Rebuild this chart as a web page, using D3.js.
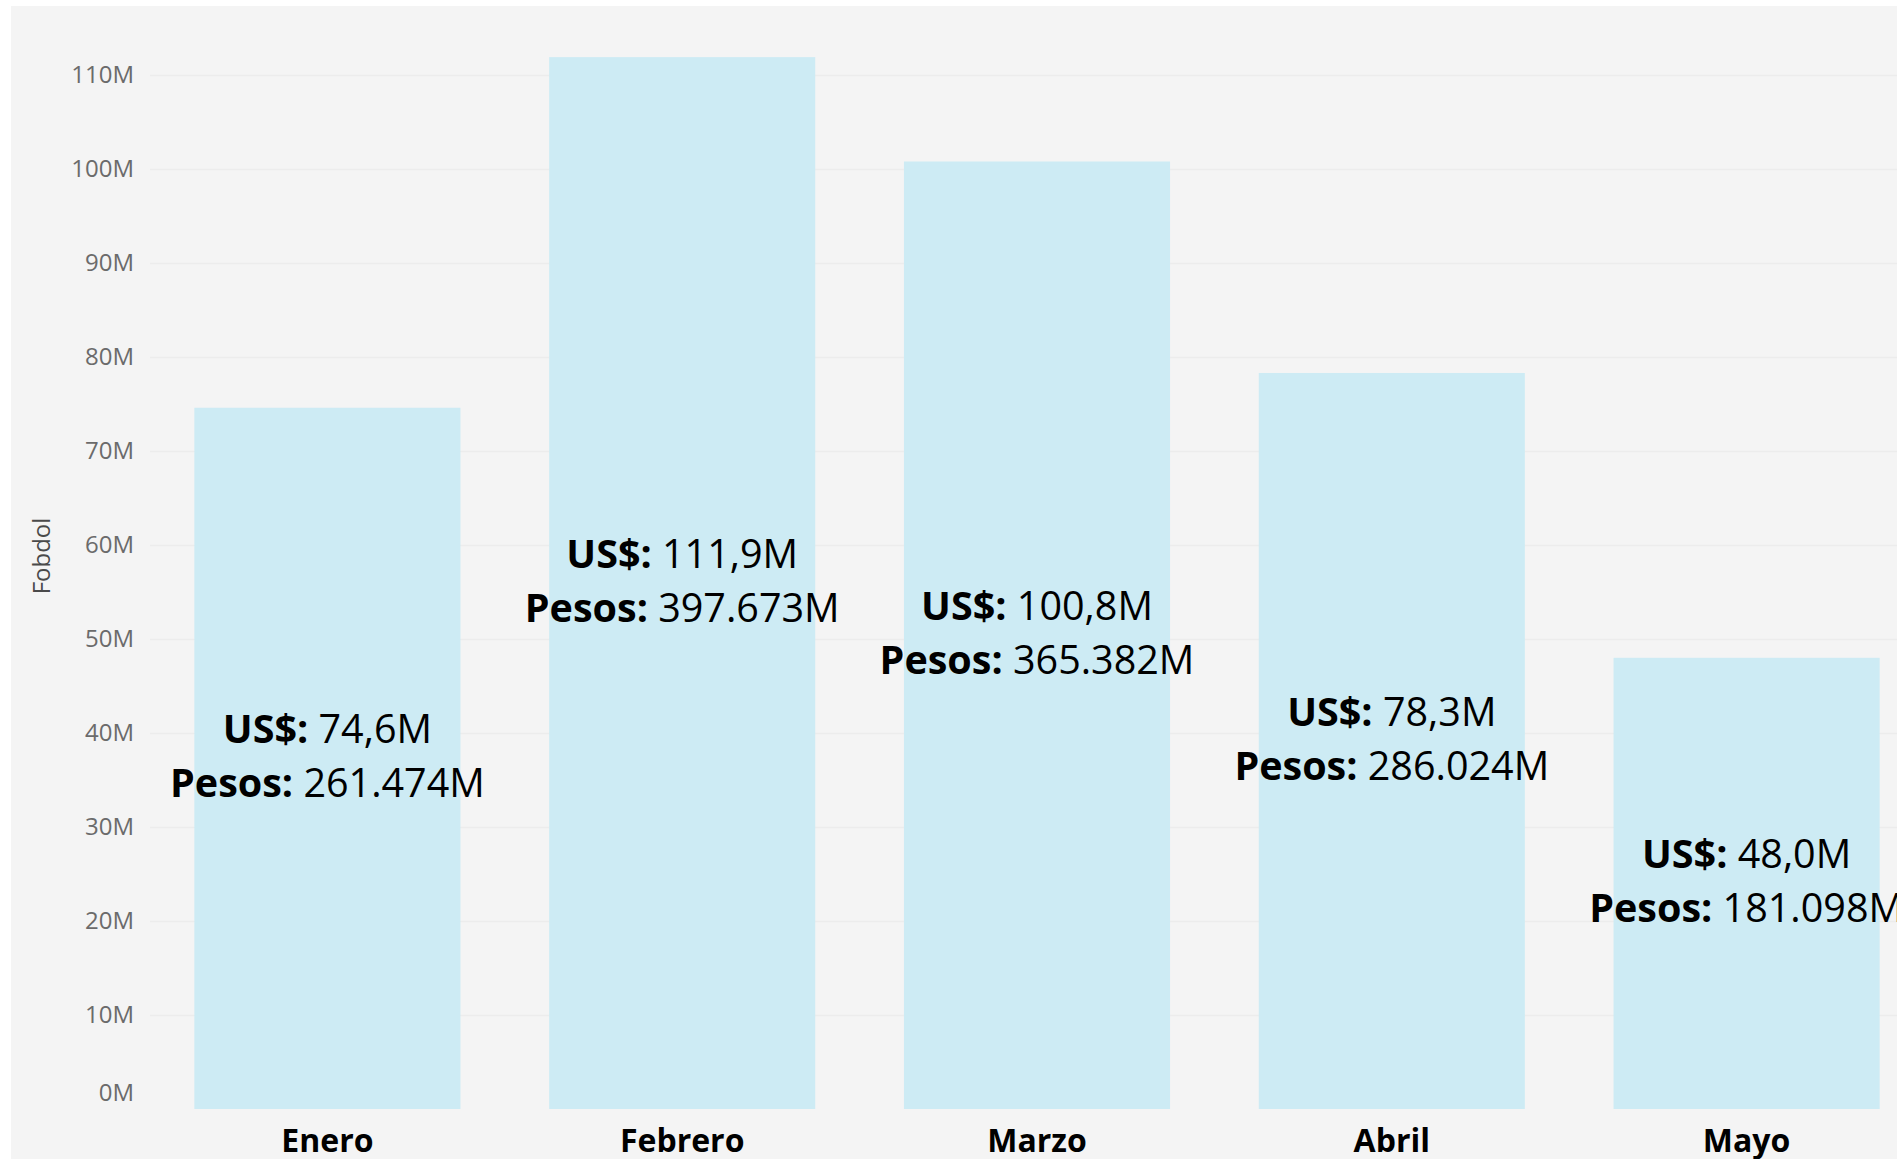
<!DOCTYPE html>
<html lang="es">
<head>
<meta charset="utf-8">
<title>Fobdol por mes</title>
<script src="https://cdn.jsdelivr.net/npm/d3@7"></script>
<style>
    body { margin: 0; background: #ffffff; font-family: "Open Sans", sans-serif; }
    svg { display: block; }
</style>
</head>
<body>
<div id="chart"></div>
<script>
    // data
    var months = ["Enero", "Febrero", "Marzo", "Abril", "Mayo"];
    var usdM = [74.6, 111.9, 100.8, 78.3, 48.0];
    var pesosM = [261474, 397673, 365382, 286024, 181098];
    var yTicks = [0, 10, 20, 30, 40, 50, 60, 70, 80, 90, 100, 110];

    var width = 1897, height = 1159;

    var svg = d3.select("#chart").append("svg")
        .attr("width", width)
        .attr("height", height);

    // panel background
    svg.append("rect")
        .attr("x", 11).attr("y", 6)
        .attr("width", width - 11).attr("height", height - 6)
        .attr("fill", "#f4f4f4");

    var es = d3.formatLocale({decimal: ",", thousands: ".", grouping: [3], currency: ["$", ""]});
    var fUsd = es.format(".1f");
    var fPesos = es.format(",d");

    var x = d3.scaleBand()
        .domain(months)
        .range([150, 1924])
        .paddingInner(0.25)
        .paddingOuter(0.125);

    var y = d3.scaleLinear()
        .domain([0, 110])
        .range([1109, 75]);

    // y axis with grid
    var yAxis = svg.append("g")
        .attr("transform", "translate(150,0)")
        .call(d3.axisLeft(y)
            .tickValues(yTicks)
            .tickSize(-(width - 150))
            .tickPadding(16)
            .tickFormat(function(d) { return d + "M"; }));
    yAxis.select(".domain").remove();
    yAxis.selectAll(".tick line")
        .attr("stroke", "#ececec")
        .attr("stroke-width", 1.3)
        .attr("stroke-opacity", function(d) { return d === 0 ? 0 : 1; });
    yAxis.selectAll(".tick text")
        .attr("fill", "#6b6b6b")
        .style("font-family", "Open Sans")
        .style("font-size", "24px")
        .attr("dy", function(d) { return d === 0 ? "-0.35em" : "0.32em"; });

    // y title
    svg.append("text")
        .attr("transform", "translate(50,556) rotate(-90)")
        .attr("text-anchor", "middle")
        .attr("fill", "#4a4a4a")
        .style("font-size", "24px")
        .text("Fobdol");

    // bars
    svg.selectAll("rect.bar")
        .data(months)
        .enter().append("rect")
        .attr("class", "bar")
        .attr("x", function(d) { return x(d); })
        .attr("width", x.bandwidth())
        .attr("y", function(d, i) { return y(usdM[i]); })
        .attr("height", function(d, i) { return y(0) - y(usdM[i]); })
        .attr("fill", "#cdebf4");

    // data labels
    var lab = svg.selectAll("g.lab")
        .data(months)
        .enter().append("g")
        .attr("class", "lab")
        .attr("transform", function(d, i) {
            var mid = (y(usdM[i]) + y(0)) / 2;
            return "translate(" + (x(d) + x.bandwidth() / 2) + "," + mid + ")";
        });

    var l1 = lab.append("text")
        .attr("text-anchor", "middle")
        .attr("y", -15)
        .style("font-size", "39.5px")
        .attr("fill", "#000");
    l1.append("tspan").style("font-weight", "bold").text("US$: ");
    l1.append("tspan").text(function(d, i) { return fUsd(usdM[i]) + "M"; });

    var l2 = lab.append("text")
        .attr("text-anchor", "middle")
        .attr("y", 39)
        .style("font-size", "39.5px")
        .attr("fill", "#000");
    l2.append("tspan").style("font-weight", "bold").text("Pesos: ");
    l2.append("tspan").text(function(d, i) { return fPesos(pesosM[i]) + "M"; });

    // x labels
    svg.selectAll("text.xlab")
        .data(months)
        .enter().append("text")
        .attr("class", "xlab")
        .attr("x", function(d) { return x(d) + x.bandwidth() / 2; })
        .attr("y", 1152)
        .attr("text-anchor", "middle")
        .style("font-size", "32px")
        .style("font-weight", "bold")
        .attr("fill", "#000")
        .text(function(d) { return d; });
</script>
</body>
</html>
